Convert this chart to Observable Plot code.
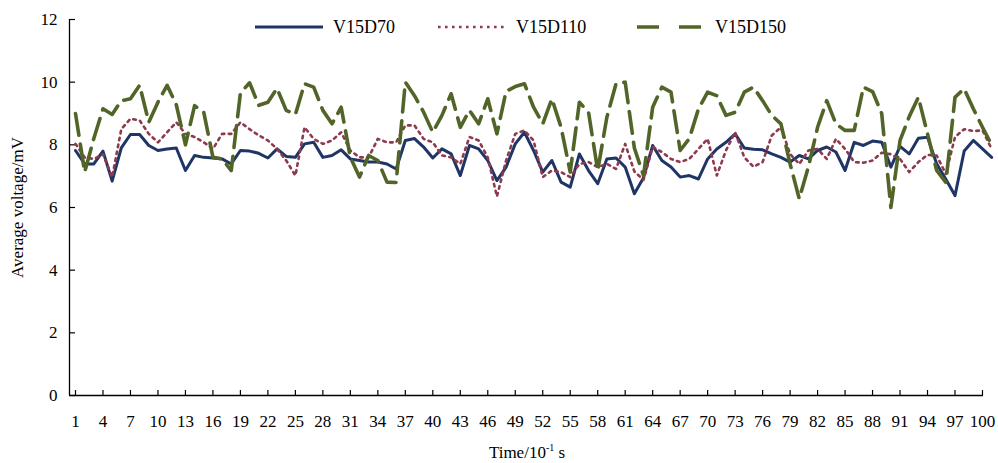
<!DOCTYPE html>
<html><head><meta charset="utf-8">
<script src="https://cdn.jsdelivr.net/npm/d3@7"></script>
<script src="https://cdn.jsdelivr.net/npm/@observablehq/plot@0.6"></script>
<style>
body{margin:0;background:#fff;}
#wrap{position:relative;width:998px;height:463px;font-family:"Liberation Serif","Times New Roman",serif;color:#000;}
.leg{position:absolute;top:17px;height:20px;display:flex;align-items:center;font-size:18px;white-space:nowrap;}
.leg svg{margin-right:10px;}
#xtitle{position:absolute;left:0;width:1054px;top:443px;text-align:center;font-size:17px;line-height:20px;}
#xtitle sup{font-size:10px;vertical-align:7px;line-height:0;}
</style></head><body>
<div id="wrap"></div>
<script>
// categories (time, 10^-1 s)
const time = Array.from({length: 101}, (_, i) => i + 1);
const xTickLabels = [1,4,7,10,13,16,19,22,25,28,31,34,37,40,43,46,49,52,55,58,61,64,67,70,73,76,79,82,85,88,91,94,97,100];
const yTickLabels = [0,2,4,6,8,10,12];
const seriesNames = ["V15D70","V15D110","V15D150"];

const v15d70 = [7.82,7.39,7.39,7.80,6.84,7.90,8.33,8.33,7.98,7.82,7.87,7.90,7.18,7.66,7.60,7.58,7.55,7.39,7.82,7.80,
7.73,7.58,7.87,7.63,7.60,8.03,8.08,7.60,7.66,7.84,7.55,7.50,7.45,7.45,7.39,7.23,8.14,8.20,7.93,7.58,
7.87,7.71,7.02,7.98,7.87,7.50,6.86,7.29,8.03,8.40,7.82,7.13,7.50,6.81,6.65,7.71,7.18,6.76,7.55,7.58,
7.29,6.44,6.95,7.98,7.50,7.29,6.97,7.02,6.91,7.55,7.87,8.08,8.35,7.90,7.86,7.84,7.71,7.60,7.45,7.66,
7.55,7.82,7.93,7.77,7.18,8.08,7.98,8.12,8.08,7.29,7.95,7.71,8.21,8.24,7.40,6.90,6.38,7.80,8.14,7.87,7.60];

const v15d110 = [8.03,7.60,7.55,7.70,6.97,8.50,8.83,8.78,8.35,8.08,8.40,8.72,8.35,8.25,8.08,7.87,8.35,8.35,8.72,8.50,
8.30,8.14,7.87,7.50,7.02,8.56,8.19,8.03,8.14,8.40,7.82,7.60,7.60,8.19,8.08,8.08,8.62,8.62,8.19,8.08,
7.66,7.60,7.39,8.25,8.14,7.60,6.35,7.50,8.35,8.46,8.14,6.97,7.18,7.13,6.97,7.39,7.45,7.29,7.39,7.23,
8.03,7.15,6.88,7.93,7.77,7.55,7.45,7.55,7.87,8.19,7.02,7.82,8.40,7.60,7.30,7.45,8.30,8.56,7.71,7.39,
7.82,7.87,7.55,8.19,7.87,7.45,7.43,7.50,7.75,7.70,7.55,7.13,7.45,7.68,7.66,7.07,8.25,8.50,8.44,8.46,7.87];

const v15d150 = [9.00,7.13,8.20,9.15,8.97,9.41,9.47,9.90,8.72,9.36,9.90,9.28,8.00,9.25,9.04,7.60,7.55,7.18,9.65,9.98,
9.26,9.36,9.80,9.10,8.97,9.95,9.84,9.10,8.67,9.20,7.60,6.97,7.66,7.50,6.81,6.80,10.00,9.57,9.04,8.40,
8.94,9.63,8.56,9.10,8.67,9.47,8.35,9.71,9.86,9.95,9.20,8.67,9.47,8.56,7.13,9.36,9.04,7.18,8.88,9.95,
10.00,7.90,7.02,9.20,9.84,9.68,7.82,8.20,9.15,9.68,9.57,8.94,9.04,9.68,9.84,9.41,8.94,8.67,7.39,6.28,
7.30,8.56,9.41,8.67,8.46,8.46,9.84,9.70,9.00,6.00,8.14,8.90,9.52,8.35,7.18,6.80,9.52,9.79,9.15,8.56,8.00];

const colors = ["#1f3566","#8e3a4e","#526528"];
const xMin = 0.345, xMax = 100.11;

const rows = [];
[v15d70, v15d110, v15d150].forEach((vals, s) =>
  vals.forEach((v, i) => rows.push({t: time[i], v, s: seriesNames[s]})));
const sel = name => rows.filter(d => d.s === name);

const chart = Plot.plot({
  width: 998, height: 463,
  marginLeft: 69, marginRight: 15, marginTop: 19, marginBottom: 68,
  style: {fontFamily: '"Liberation Serif","Times New Roman",serif', fontSize: "17px", color: "#000", background: "transparent", overflow: "visible"},
  x: {domain: [xMin, xMax]},
  y: {domain: [0, 12]},
  marks: [
    Plot.axisX({ticks: xTickLabels, tickSize: -5, tickPadding: 24, label: null, strokeWidth: 1.2}),
    Plot.axisY({ticks: yTickLabels, tickSize: -6, tickPadding: 18, label: "Average voltage/mV", labelAnchor: "center", labelArrow: "none", labelOffset: 59, strokeWidth: 1.2}),
    Plot.ruleY([0], {stroke: "#000", strokeWidth: 1.3}),
    Plot.ruleX([xMin], {stroke: "#000", strokeWidth: 1.3}),
    Plot.line(sel("V15D70"), {x: "t", y: "v", stroke: colors[0], strokeWidth: 3, strokeLinejoin: "round"}),
    Plot.line(sel("V15D110"), {x: "t", y: "v", stroke: colors[1], strokeWidth: 2.6, strokeDasharray: "2.6 4.4"}),
    Plot.line(sel("V15D150"), {x: "t", y: "v", stroke: colors[2], strokeWidth: 3.6, strokeDasharray: "22 9"})
  ]
});

const wrap = document.getElementById("wrap");
wrap.appendChild(chart);

// legend
const legendItems = [
  {name: seriesNames[0], left: 255, color: colors[0], dash: null, w: 3},
  {name: seriesNames[1], left: 438, color: colors[1], dash: "2.6 4.4", w: 2.6},
  {name: seriesNames[2], left: 637, color: colors[2], dash: "22 20", w: 3.6}
];
legendItems.forEach(it => {
  const d = document.createElement("div");
  d.className = "leg";
  d.style.left = it.left + "px";
  d.innerHTML = `<svg width="68" height="20"><line x1="0" x2="68" y1="10" y2="10" stroke="${it.color}" stroke-width="${it.w}" ${it.dash ? `stroke-dasharray="${it.dash}"` : ""}/></svg><span>${it.name}</span>`;
  wrap.appendChild(d);
});

const xt = document.createElement("div");
xt.id = "xtitle";
xt.innerHTML = "Time/10<sup>-1</sup> s";
wrap.appendChild(xt);
</script>
</body></html>
